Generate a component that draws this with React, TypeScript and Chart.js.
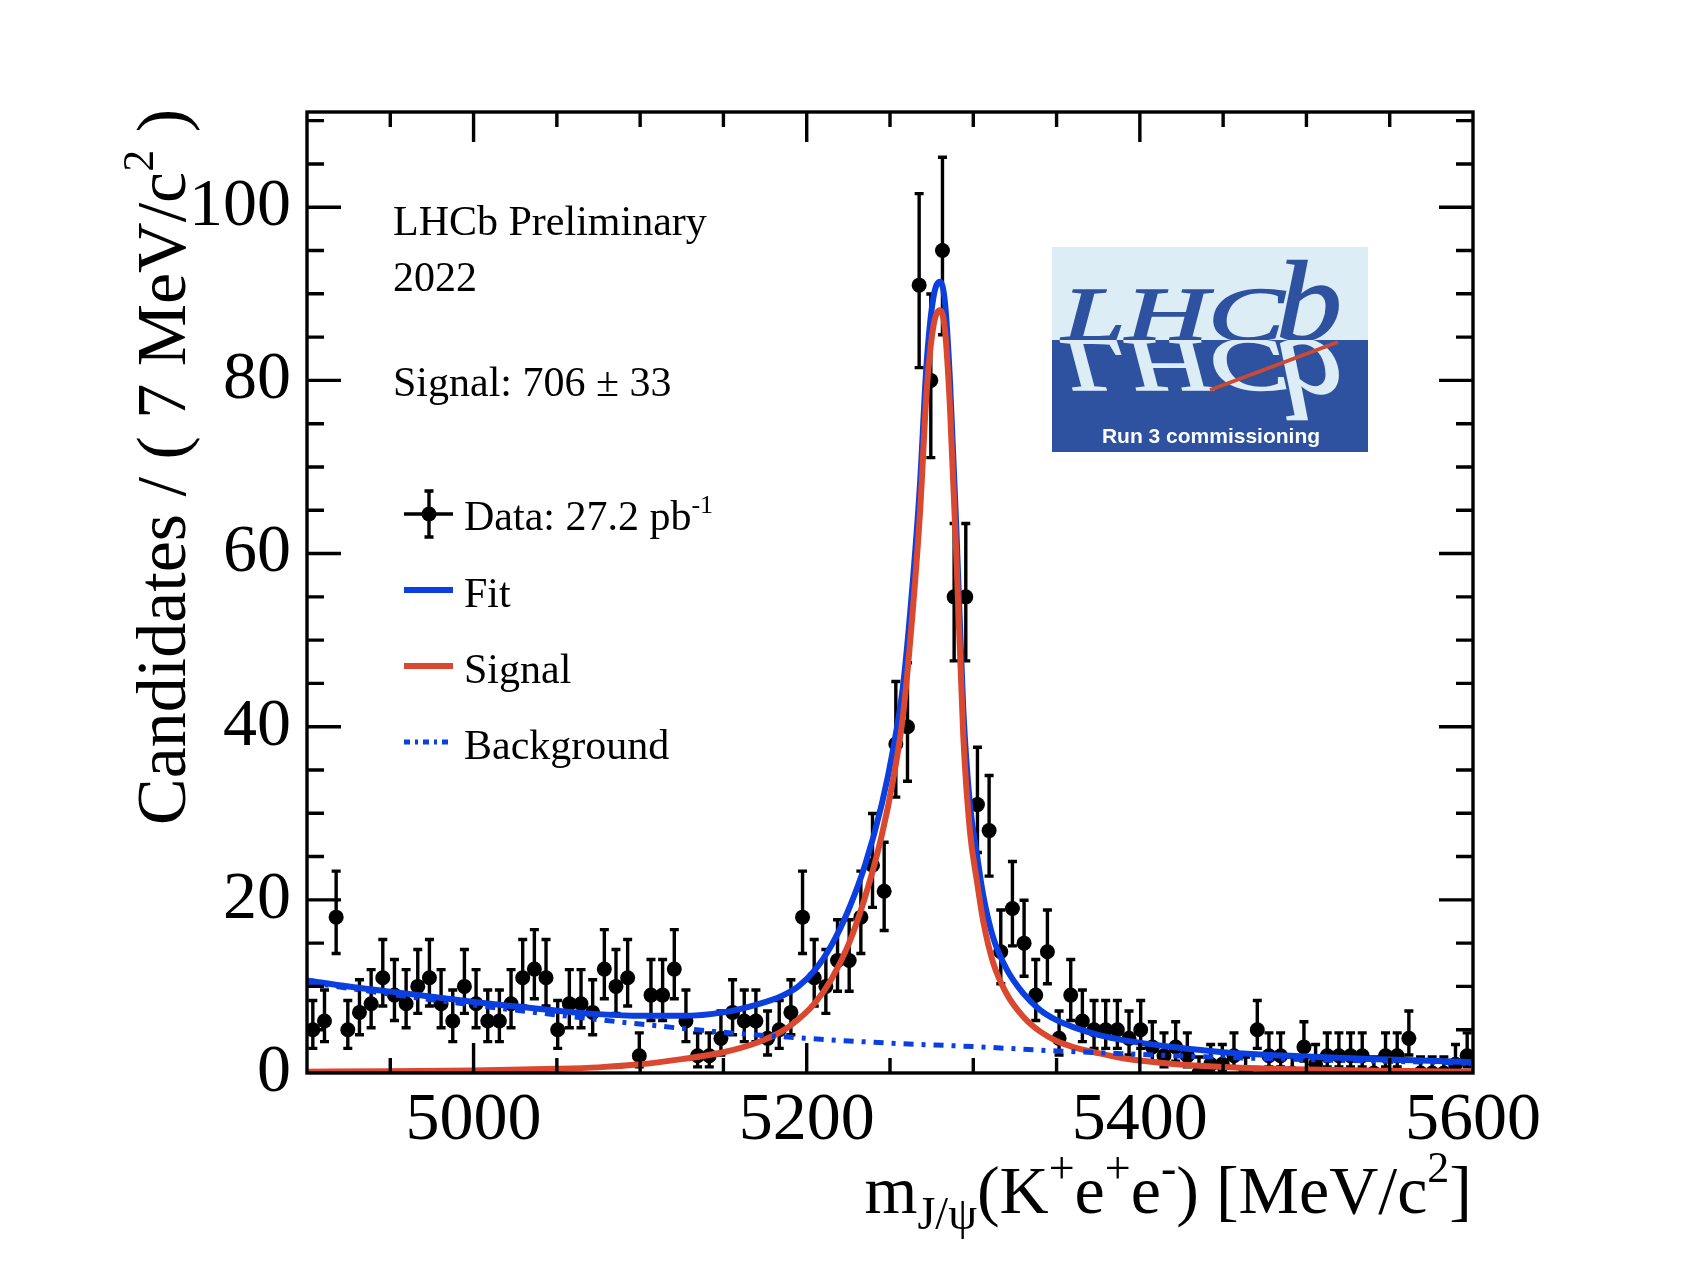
import React, { useEffect, useRef } from 'react';
import { Chart, registerables } from 'chart.js';

Chart.register(...registerables);

// ---------------- data ----------------
const X_MIN = 4900;
const X_MAX = 5600;
const BIN_WIDTH = 7; // MeV/c^2
const Y_MIN = 0;
const Y_MAX = 111;

// candidates per 7 MeV bin (100 bins, 4900-5600)
const COUNTS_A = [5, 6, 18, 5, 7, 8, 11, 9, 8, 10, 11, 8, 6, 10, 8, 6, 6, 8, 11, 12, 11, 5, 8, 8, 7];
const COUNTS_B = [12, 10, 11, 2, 9, 9, 12, 6, 2, 2, 4, 7, 6, 6, 4, 5, 7, 18, 11, 10, 13, 13, 18, 24, 21];
const COUNTS_C = [38, 40, 91, 80, 95, 55, 55, 31, 28, 14, 19, 15, 9, 14, 4, 9, 6, 5, 5, 5, 4, 5, 3, 2, 3];
const COUNTS_D = [2, 0, 1, 1, 2, 0, 5, 2, 2, 0, 3, 1, 2, 2, 2, 2, 0, 2, 2, 4, 0, 0, 0, 1, 2];
const COUNTS = [...COUNTS_A, ...COUNTS_B, ...COUNTS_C, ...COUNTS_D];

// total fit curve
const FIT_X = [4900, 4925, 4950, 4975, 5000, 5025, 5050, 5075, 5100, 5125, 5150, 5170, 5185, 5195, 5205, 5215, 5225, 5235, 5245, 5252, 5258, 5264, 5268, 5272, 5276, 5280, 5283, 5286, 5290, 5294, 5298, 5302, 5306, 5312, 5320, 5330, 5340, 5350, 5360, 5375, 5390, 5420, 5450, 5500, 5550, 5600];
const FIT_Y = [10.7, 10.0, 9.4, 8.8, 8.2, 7.7, 7.2, 6.8, 6.6, 6.6, 7.0, 7.9, 8.9, 10.0, 11.9, 14.8, 18.8, 24.0, 31.0, 37.5, 45.0, 57.5, 68.0, 82.0, 89.5, 91.4, 89.0, 80.0, 62.0, 42.0, 31.0, 25.5, 20.5, 15.6, 12.0, 9.2, 7.3, 6.1, 5.3, 4.4, 3.8, 3.0, 2.4, 1.9, 1.55, 1.25];

// signal component
const SIG_X = [4900, 4950, 5000, 5050, 5075, 5100, 5125, 5150, 5170, 5185, 5195, 5205, 5215, 5225, 5235, 5245, 5252, 5258, 5264, 5268, 5272, 5276, 5280, 5283, 5286, 5290, 5294, 5298, 5302, 5306, 5312, 5320, 5330, 5340, 5350, 5360, 5375, 5390, 5420, 5450, 5500, 5550, 5600];
const SIG_Y = [0.15, 0.2, 0.3, 0.48, 0.65, 1.0, 1.6, 2.4, 3.5, 4.8, 6.2, 8.1, 10.9, 14.8, 20.3, 27.4, 34.0, 41.6, 54.2, 64.7, 78.7, 86.2, 88.1, 85.8, 76.9, 58.9, 38.9, 27.9, 22.4, 17.5, 12.7, 9.15, 6.5, 4.8, 3.7, 3.0, 2.3, 1.7, 1.05, 0.7, 0.4, 0.25, 0.15];

// background component
const BKG_X = [4900, 4950, 5000, 5050, 5100, 5150, 5200, 5250, 5300, 5350, 5400, 5450, 5500, 5550, 5600];
const BKG_Y = [10.5, 9.1, 7.85, 6.7, 5.65, 4.7, 4.0, 3.45, 3.05, 2.55, 2.15, 1.8, 1.55, 1.35, 1.15];

const X_TICKS = [5000, 5200, 5400, 5600];
const Y_TICKS = [0, 20, 40, 60, 80, 100];
const X_MINOR_STEP = 50;
const Y_MINOR_STEP = 5;

// ---------------- helpers ----------------
const SERIF = '"Liberation Serif", "Times New Roman", serif';
const BLUE = '#0b3fe0';
const RED = '#d9482f';
const BKG_DASH = [10, 8, 4, 8];

function poissonCdf(k: number, mu: number) {
  let term = Math.exp(-mu);
  let sum = term;
  for (let i = 1; i <= k; i++) {
    term *= mu / i;
    sum += term;
  }
  return sum;
}
const ALPHA = 0.158655;
function solve(f: (m: number) => number, lo: number, hi: number) {
  for (let i = 0; i < 80; i++) {
    const m = (lo + hi) / 2;
    if (f(m) > 0) lo = m;
    else hi = m;
  }
  return (lo + hi) / 2;
}
function poissonInterval(n: number): [number, number] {
  const hiB = n + 10 * Math.sqrt(n + 1) + 10;
  const upper = solve((mu) => poissonCdf(n, mu) - ALPHA, n, hiB);
  const lower = n === 0 ? 0 : solve((mu) => ALPHA - (1 - poissonCdf(n - 1, mu)), 0, n);
  return [lower, upper];
}

type Seg = { t: string; s: number; dy?: number };
function richWidth(ctx: CanvasRenderingContext2D, segs: Seg[]) {
  let w = 0;
  for (const sg of segs) {
    ctx.font = `${sg.s}px ${SERIF}`;
    w += ctx.measureText(sg.t).width;
  }
  return w;
}
function drawRich(ctx: CanvasRenderingContext2D, segs: Seg[], x: number, y: number, align: 'left' | 'right') {
  const total = richWidth(ctx, segs);
  let cx = align === 'right' ? x - total : x;
  ctx.textAlign = 'left';
  ctx.textBaseline = 'alphabetic';
  for (const sg of segs) {
    ctx.font = `${sg.s}px ${SERIF}`;
    ctx.fillText(sg.t, cx, y + (sg.dy || 0));
    cx += ctx.measureText(sg.t).width;
  }
}

function drawLogo(ctx: CanvasRenderingContext2D) {
  const L = 1052, T = 247, R = 1368, B = 452, MID = 340;
  const DARK = '#2e52a0';
  const LIGHT = '#dcedf6';
  ctx.save();
  ctx.fillStyle = LIGHT;
  ctx.fillRect(L, T, R - L, MID - T);
  ctx.fillStyle = DARK;
  ctx.fillRect(L, MID, R - L, B - MID);

  const word = (color: string, flip: boolean) => {
    ctx.save();
    ctx.beginPath();
    if (flip) ctx.rect(L, MID, R - L, B - MID);
    else ctx.rect(L, T, R - L, MID - T + 2);
    ctx.clip();
    ctx.translate(1062, MID);
    ctx.scale(1, flip ? -1 : 1);
    ctx.fillStyle = color;
    ctx.textAlign = 'left';
    ctx.textBaseline = 'alphabetic';
    ctx.font = `italic 76px ${SERIF}`;
    const w = ctx.measureText('LHC').width;
    ctx.save();
    ctx.scale(222 / w, 1);
    ctx.fillText('LHC', 0, 0);
    ctx.strokeStyle = color;
    ctx.lineWidth = 1.5;
    ctx.strokeText('LHC', 0, 0);
    ctx.restore();
    ctx.font = `italic 114px ${SERIF}`;
    const wb = ctx.measureText('b').width;
    ctx.save();
    ctx.translate(214, 0);
    ctx.scale(66 / wb, 1);
    ctx.fillText('b', 0, 0);
    ctx.strokeStyle = color;
    ctx.lineWidth = 1.5;
    ctx.strokeText('b', 0, 0);
    ctx.restore();
    ctx.restore();
  };
  word(DARK, false);
  word(LIGHT, true);

  ctx.strokeStyle = '#cc4a33';
  ctx.lineWidth = 3.5;
  ctx.beginPath();
  ctx.moveTo(1210, 390);
  ctx.lineTo(1338, 342);
  ctx.stroke();

  ctx.fillStyle = '#ffffff';
  ctx.font = 'bold 21px "Liberation Sans", Arial, sans-serif';
  ctx.textAlign = 'center';
  ctx.textBaseline = 'alphabetic';
  ctx.fillText('Run 3 commissioning', 1211, 443);
  ctx.restore();
}

const decorPlugin = {
  id: 'lhcbDecor',
  beforeDatasetsDraw(chart: any) {
    const ctx: CanvasRenderingContext2D = chart.ctx;
    const xs = chart.scales.x;
    const ys = chart.scales.y;
    const a = chart.chartArea;
    ctx.save();
    ctx.beginPath();
    ctx.rect(a.left, a.top, a.right - a.left, a.bottom - a.top);
    ctx.clip();
    ctx.strokeStyle = '#000';
    ctx.lineWidth = 3.4;
    ctx.lineCap = 'butt';
    COUNTS.forEach((n, i) => {
      const [lo, hi] = poissonInterval(n);
      const x = xs.getPixelForValue(X_MIN + BIN_WIDTH * (i + 0.5));
      const yl = ys.getPixelForValue(lo);
      const yh = ys.getPixelForValue(hi);
      ctx.beginPath();
      ctx.moveTo(x, yl);
      ctx.lineTo(x, yh);
      ctx.moveTo(x - 4.5, yh);
      ctx.lineTo(x + 4.5, yh);
      if (n > 0) {
        ctx.moveTo(x - 4.5, yl);
        ctx.lineTo(x + 4.5, yl);
      }
      ctx.stroke();
    });
    ctx.restore();
  },
  afterDraw(chart: any) {
    const ctx: CanvasRenderingContext2D = chart.ctx;
    const xs = chart.scales.x;
    const ys = chart.scales.y;
    const a = chart.chartArea;
    ctx.save();
    // frame
    ctx.strokeStyle = '#000';
    ctx.lineWidth = 3.4;
    ctx.strokeRect(a.left, a.top, a.right - a.left, a.bottom - a.top);
    // x ticks (bottom + top)
    ctx.beginPath();
    for (let v = X_MIN + X_MINOR_STEP; v < X_MAX; v += X_MINOR_STEP) {
      const major = X_TICKS.includes(v);
      const len = major ? 30 : 15;
      const px = xs.getPixelForValue(v);
      ctx.moveTo(px, a.bottom);
      ctx.lineTo(px, a.bottom - len);
      ctx.moveTo(px, a.top);
      ctx.lineTo(px, a.top + len);
    }
    // y ticks (left + right)
    for (let v = Y_MIN + Y_MINOR_STEP; v < Y_MAX; v += Y_MINOR_STEP) {
      const major = Y_TICKS.includes(v);
      const len = major ? 34 : 17;
      const py = ys.getPixelForValue(v);
      ctx.moveTo(a.left, py);
      ctx.lineTo(a.left + len, py);
      ctx.moveTo(a.right, py);
      ctx.lineTo(a.right - len, py);
    }
    ctx.stroke();

    ctx.fillStyle = '#000';
    // x axis title
    drawRich(
      ctx,
      [
        { t: 'm', s: 68 },
        { t: 'J/\u03c8', s: 46, dy: 16 },
        { t: '(K', s: 68 },
        { t: '+', s: 46, dy: -30 },
        { t: 'e', s: 68 },
        { t: '+', s: 46, dy: -30 },
        { t: 'e', s: 68 },
        { t: '-', s: 46, dy: -30 },
        { t: ') [MeV/c', s: 68 },
        { t: '2', s: 44, dy: -31 },
        { t: ']', s: 68 },
      ],
      a.right - 1,
      a.bottom + 140,
      'right'
    );
    // y axis title (rotated)
    ctx.save();
    ctx.translate(a.left - 122, a.top - 3);
    ctx.rotate(-Math.PI / 2);
    drawRich(
      ctx,
      [
        { t: 'Candidates / ( 7 MeV/c', s: 70 },
        { t: '2', s: 44, dy: -32 },
        { t: ' )', s: 70 },
      ],
      0,
      0,
      'right'
    );
    ctx.restore();

    // annotations
    const tx = 393;
    drawRich(ctx, [{ t: 'LHCb Preliminary', s: 42 }], tx, 235, 'left');
    drawRich(ctx, [{ t: '2022', s: 42 }], tx, 291, 'left');
    drawRich(ctx, [{ t: 'Signal: 706 \u00b1 33', s: 42 }], tx, 396, 'left');

    // legend
    const lx0 = 404, lx1 = 453, ltx = 464;
    ctx.lineWidth = 3.4;
    ctx.beginPath();
    ctx.moveTo(lx0, 514);
    ctx.lineTo(lx1, 514);
    ctx.moveTo(429, 491);
    ctx.lineTo(429, 537);
    ctx.moveTo(424.5, 491);
    ctx.lineTo(433.5, 491);
    ctx.moveTo(424.5, 537);
    ctx.lineTo(433.5, 537);
    ctx.stroke();
    ctx.beginPath();
    ctx.arc(429, 514, 7.5, 0, Math.PI * 2);
    ctx.fill();
    drawRich(ctx, [{ t: 'Data: 27.2 pb', s: 42 }, { t: '-1', s: 26, dy: -17 }], ltx, 530, 'left');

    const legLine = (y: number, color: string, dash: number[], w: number) => {
      ctx.save();
      ctx.strokeStyle = color;
      ctx.lineWidth = w;
      ctx.setLineDash(dash);
      ctx.beginPath();
      ctx.moveTo(lx0, y);
      ctx.lineTo(lx1, y);
      ctx.stroke();
      ctx.restore();
    };
    legLine(590, BLUE, [], 6);
    drawRich(ctx, [{ t: 'Fit', s: 42 }], ltx, 607, 'left');
    legLine(666, RED, [], 6);
    drawRich(ctx, [{ t: 'Signal', s: 42 }], ltx, 683, 'left');
    legLine(742, BLUE, [6, 5, 3, 5], 5);
    drawRich(ctx, [{ t: 'Background', s: 42 }], ltx, 759, 'left');

    drawLogo(ctx);
    ctx.restore();
  },
};

export default function App() {
  const canvasRef = useRef<HTMLCanvasElement | null>(null);

  useEffect(() => {
    const canvas = canvasRef.current;
    if (!canvas) return;
    const dataPts = COUNTS.map((n, i) => ({ x: X_MIN + BIN_WIDTH * (i + 0.5), y: n }));
    const fitPts = FIT_X.map((x, i) => ({ x, y: FIT_Y[i] }));
    const sigPts = SIG_X.map((x, i) => ({ x, y: SIG_Y[i] }));
    const bkgPts = BKG_X.map((x, i) => ({ x, y: BKG_Y[i] }));

    const chart = new Chart(canvas, {
      type: 'line',
      data: {
        datasets: [
          {
            label: 'Data',
            data: dataPts,
            showLine: false,
            pointRadius: 7.5,
            pointHoverRadius: 7.5,
            pointBackgroundColor: '#000',
            pointBorderWidth: 0,
            borderColor: '#000',
            order: 4,
          },
          {
            label: 'Fit',
            data: fitPts,
            borderColor: BLUE,
            borderWidth: 6,
            pointRadius: 0,
            cubicInterpolationMode: 'monotone',
            borderJoinStyle: 'round',
            fill: false,
            order: 3,
          },
          {
            label: 'Signal',
            data: sigPts,
            borderColor: RED,
            borderWidth: 6,
            pointRadius: 0,
            cubicInterpolationMode: 'monotone',
            borderJoinStyle: 'round',
            fill: false,
            order: 2,
          },
          {
            label: 'Background',
            data: bkgPts,
            borderColor: BLUE,
            borderWidth: 5,
            borderDash: BKG_DASH,
            pointRadius: 0,
            cubicInterpolationMode: 'monotone',
            fill: false,
            order: 1,
          },
        ],
      } as any,
      options: {
        animation: false,
        responsive: false,
        maintainAspectRatio: false,
        events: [],
        layout: { padding: { left: 0, top: 112, right: 233, bottom: 0 } },
        plugins: {
          legend: { display: false },
          tooltip: { enabled: false },
          title: { display: false },
        },
        scales: {
          x: {
            type: 'linear',
            min: X_MIN,
            max: X_MAX,
            grid: { display: false, drawTicks: false },
            border: { display: false },
            ticks: {
              font: { family: SERIF, size: 68, lineHeight: 1.2 },
              color: '#000',
              padding: 7,
              autoSkip: false,
              maxRotation: 0,
              minRotation: 0,
              callback: (v: any) => String(v),
            },
            afterBuildTicks: (s: any) => {
              s.ticks = X_TICKS.map((v) => ({ value: v }));
            },
            afterFit: (s: any) => {
              s.height = 205;
            },
          },
          y: {
            type: 'linear',
            min: Y_MIN,
            max: Y_MAX,
            grid: { display: false, drawTicks: false },
            border: { display: false },
            ticks: {
              font: { family: SERIF, size: 68, lineHeight: 1.2 },
              color: '#000',
              padding: 16,
              callback: (v: any) => String(v),
            },
            afterBuildTicks: (s: any) => {
              s.ticks = Y_TICKS.map((v) => ({ value: v }));
            },
            afterFit: (s: any) => {
              s.width = 307;
            },
          },
        },
      } as any,
      plugins: [decorPlugin],
    });
    return () => chart.destroy();
  }, []);

  return (
    <div style={{ position: 'absolute', left: 0, top: 0, width: 1706, height: 1278, background: '#fff' }}>
      <canvas ref={canvasRef} width={1706} height={1278} style={{ width: 1706, height: 1278, display: 'block' }} />
    </div>
  );
}
